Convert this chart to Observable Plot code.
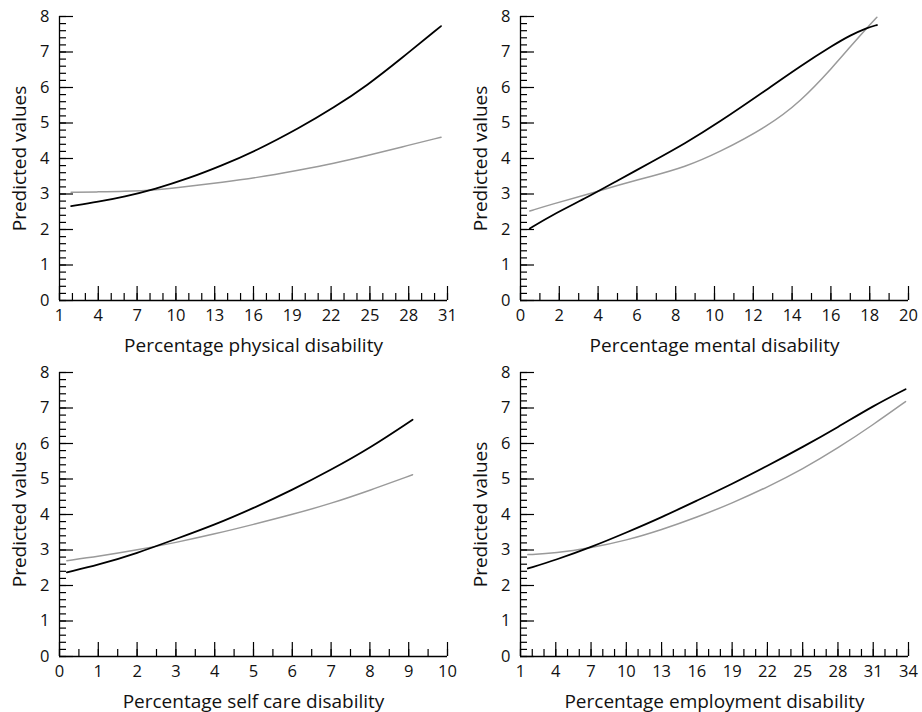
<!DOCTYPE html>
<html>
<head>
<meta charset="utf-8">
<script src="https://cdn.jsdelivr.net/npm/d3@7"></script>
<script src="https://cdn.jsdelivr.net/npm/@observablehq/plot@0.6"></script>
<style>
  html, body { margin: 0; padding: 0; background: #fff; }
  #grid { display: grid; grid-template-columns: 461px 461px; grid-template-rows: 356px 356px; width: 922px; height: 712px; }
  .cell { position: relative; width: 461px; height: 356px; }
  .cell svg { display: block; position: absolute; left: 0; top: 0; background: transparent !important; }
</style>
</head>
<body>
<div id="grid"></div>
<script>
// ---- Data ----
const yLabel = "Predicted values";
const yTicks = [0, 1, 2, 3, 4, 5, 6, 7, 8];
const yMinorTicks = d3.range(0, 8.001, 0.2).map(v => +v.toFixed(1));

// Panel 1: physical disability
const physTitle = "Percentage physical disability";
const physTicks = [1, 4, 7, 10, 13, 16, 19, 22, 25, 28, 31];
const physMinor = d3.range(1, 32, 1);
const physX     = [1.9, 4, 6, 8.4, 11, 13.6, 16.1, 19.6, 22.2, 24.8, 27.4, 30.5];
const physBlack = [2.66, 2.78, 2.92, 3.14, 3.44, 3.81, 4.2, 4.87, 5.43, 6.06, 6.81, 7.73];
const physGrey  = [3.05, 3.06, 3.07, 3.11, 3.22, 3.33, 3.45, 3.68, 3.86, 4.08, 4.32, 4.60];

// Panel 2: mental disability
const mentTitle = "Percentage mental disability";
const mentTicks = [0, 2, 4, 6, 8, 10, 12, 14, 16, 18, 20];
const mentMinor = d3.range(0, 21, 1);
const mentX     = [0.48, 1.6, 3.32, 5.04, 6.75, 8.47, 10.19, 12.7, 14.42, 16.14, 17.0, 17.86, 18.37];
const mentBlack = [2.03, 2.40, 2.87, 3.39, 3.90, 4.42, 5.0, 5.94, 6.60, 7.20, 7.47, 7.68, 7.76];
const mentGrey  = [2.52, 2.71, 2.97, 3.25, 3.50, 3.76, 4.16, 4.89, 5.59, 6.60, 7.15, 7.68, 7.98];

// Panel 3: self care disability
const selfTitle = "Percentage self care disability";
const selfTicks = [0, 1, 2, 3, 4, 5, 6, 7, 8, 9, 10];
const selfMinor = d3.range(0, 10.01, 0.5);
const selfX     = [0.19, 1, 2, 3, 4, 5, 6, 7, 8, 9.1];
const selfBlack = [2.37, 2.58, 2.91, 3.31, 3.71, 4.18, 4.69, 5.26, 5.87, 6.67];
const selfGrey  = [2.70, 2.82, 3.0, 3.21, 3.45, 3.72, 4.0, 4.31, 4.68, 5.12];

// Panel 4: employment disability
const emplTitle = "Percentage employment disability";
const emplTicks = [1, 4, 7, 10, 13, 16, 19, 22, 25, 28, 31, 34];
const emplMinor = d3.range(1, 35, 1);
const emplX     = [1.63, 4, 7, 10, 13, 16, 19, 22, 25, 28, 31, 33.75];
const emplBlack = [2.48, 2.72, 3.08, 3.49, 3.92, 4.39, 4.86, 5.37, 5.9, 6.46, 7.06, 7.53];
const emplGrey  = [2.87, 2.91, 3.06, 3.27, 3.57, 3.92, 4.32, 4.77, 5.28, 5.87, 6.53, 7.18];

// ---- Drawing ----
const FONT = "'Open Sans', Lato, sans-serif";
const TXT = {fontFamily: FONT, fill: "#111"};
const FRAME = {width: 461, height: 356, marginTop: 16, marginRight: 14, marginBottom: 56, marginLeft: 59};

function panel(title, ticks, minor, xs, black, grey) {
  const x0 = ticks[0], x1 = ticks[ticks.length - 1];
  const blackData = xs.map((x, i) => ({x, y: black[i]}));
  const greyData = xs.map((x, i) => ({x, y: grey[i]}));
  const tk = {stroke: "#000", strokeWidth: 1.2, tickFormat: () => "", label: null};

  // layer 1: titles and curves
  const base = Plot.plot({
    ...FRAME,
    x: {domain: [x0, x1], axis: null},
    y: {domain: [0, 8], axis: null},
    marks: [
      Plot.text([title], {frameAnchor: "bottom", textAnchor: "middle", lineAnchor: "bottom", dy: 51, fontSize: 19, ...TXT}),
      Plot.text([yLabel], {frameAnchor: "left", textAnchor: "middle", lineAnchor: "middle", dx: -40, rotate: -90, fontSize: 19, ...TXT}),
      Plot.line(greyData, {x: "x", y: "y", stroke: "#9a9a9a", strokeWidth: 1.5, curve: "basis"}),
      Plot.line(blackData, {x: "x", y: "y", stroke: "#000", strokeWidth: 1.8, curve: "basis"})
    ]
  });

  // layer 2: axes, ticks and tick labels
  const axes = Plot.plot({
    ...FRAME,
    x: {domain: [x0, x1]},
    y: {domain: [0, 8]},
    marks: [
      Plot.ruleY([0], {stroke: "#000", strokeWidth: 1.3}),
      Plot.ruleX([x0], {stroke: "#000", strokeWidth: 1.3}),
      Plot.text(ticks, {x: d => d, y: 0, text: d => String(d), dy: 15, fontSize: 16.5, ...TXT}),
      Plot.text(yTicks, {x: x0, y: d => d, text: d => String(d), dx: -10, textAnchor: "end", fontSize: 16.5, ...TXT}),
      Plot.axisX({ticks: minor, tickSize: -7, ...tk}),
      Plot.axisX({ticks: ticks, tickSize: -14, ...tk}),
      Plot.axisY({ticks: yMinorTicks, tickSize: -7, ...tk}),
      Plot.axisY({ticks: yTicks, tickSize: -14, ...tk})
    ]
  });

  const cell = document.createElement("div");
  cell.className = "cell";
  cell.append(base, axes);
  return cell;
}

const grid = document.getElementById("grid");
grid.append(
  panel(physTitle, physTicks, physMinor, physX, physBlack, physGrey),
  panel(mentTitle, mentTicks, mentMinor, mentX, mentBlack, mentGrey),
  panel(selfTitle, selfTicks, selfMinor, selfX, selfBlack, selfGrey),
  panel(emplTitle, emplTicks, emplMinor, emplX, emplBlack, emplGrey)
);
</script>
</body>
</html>
